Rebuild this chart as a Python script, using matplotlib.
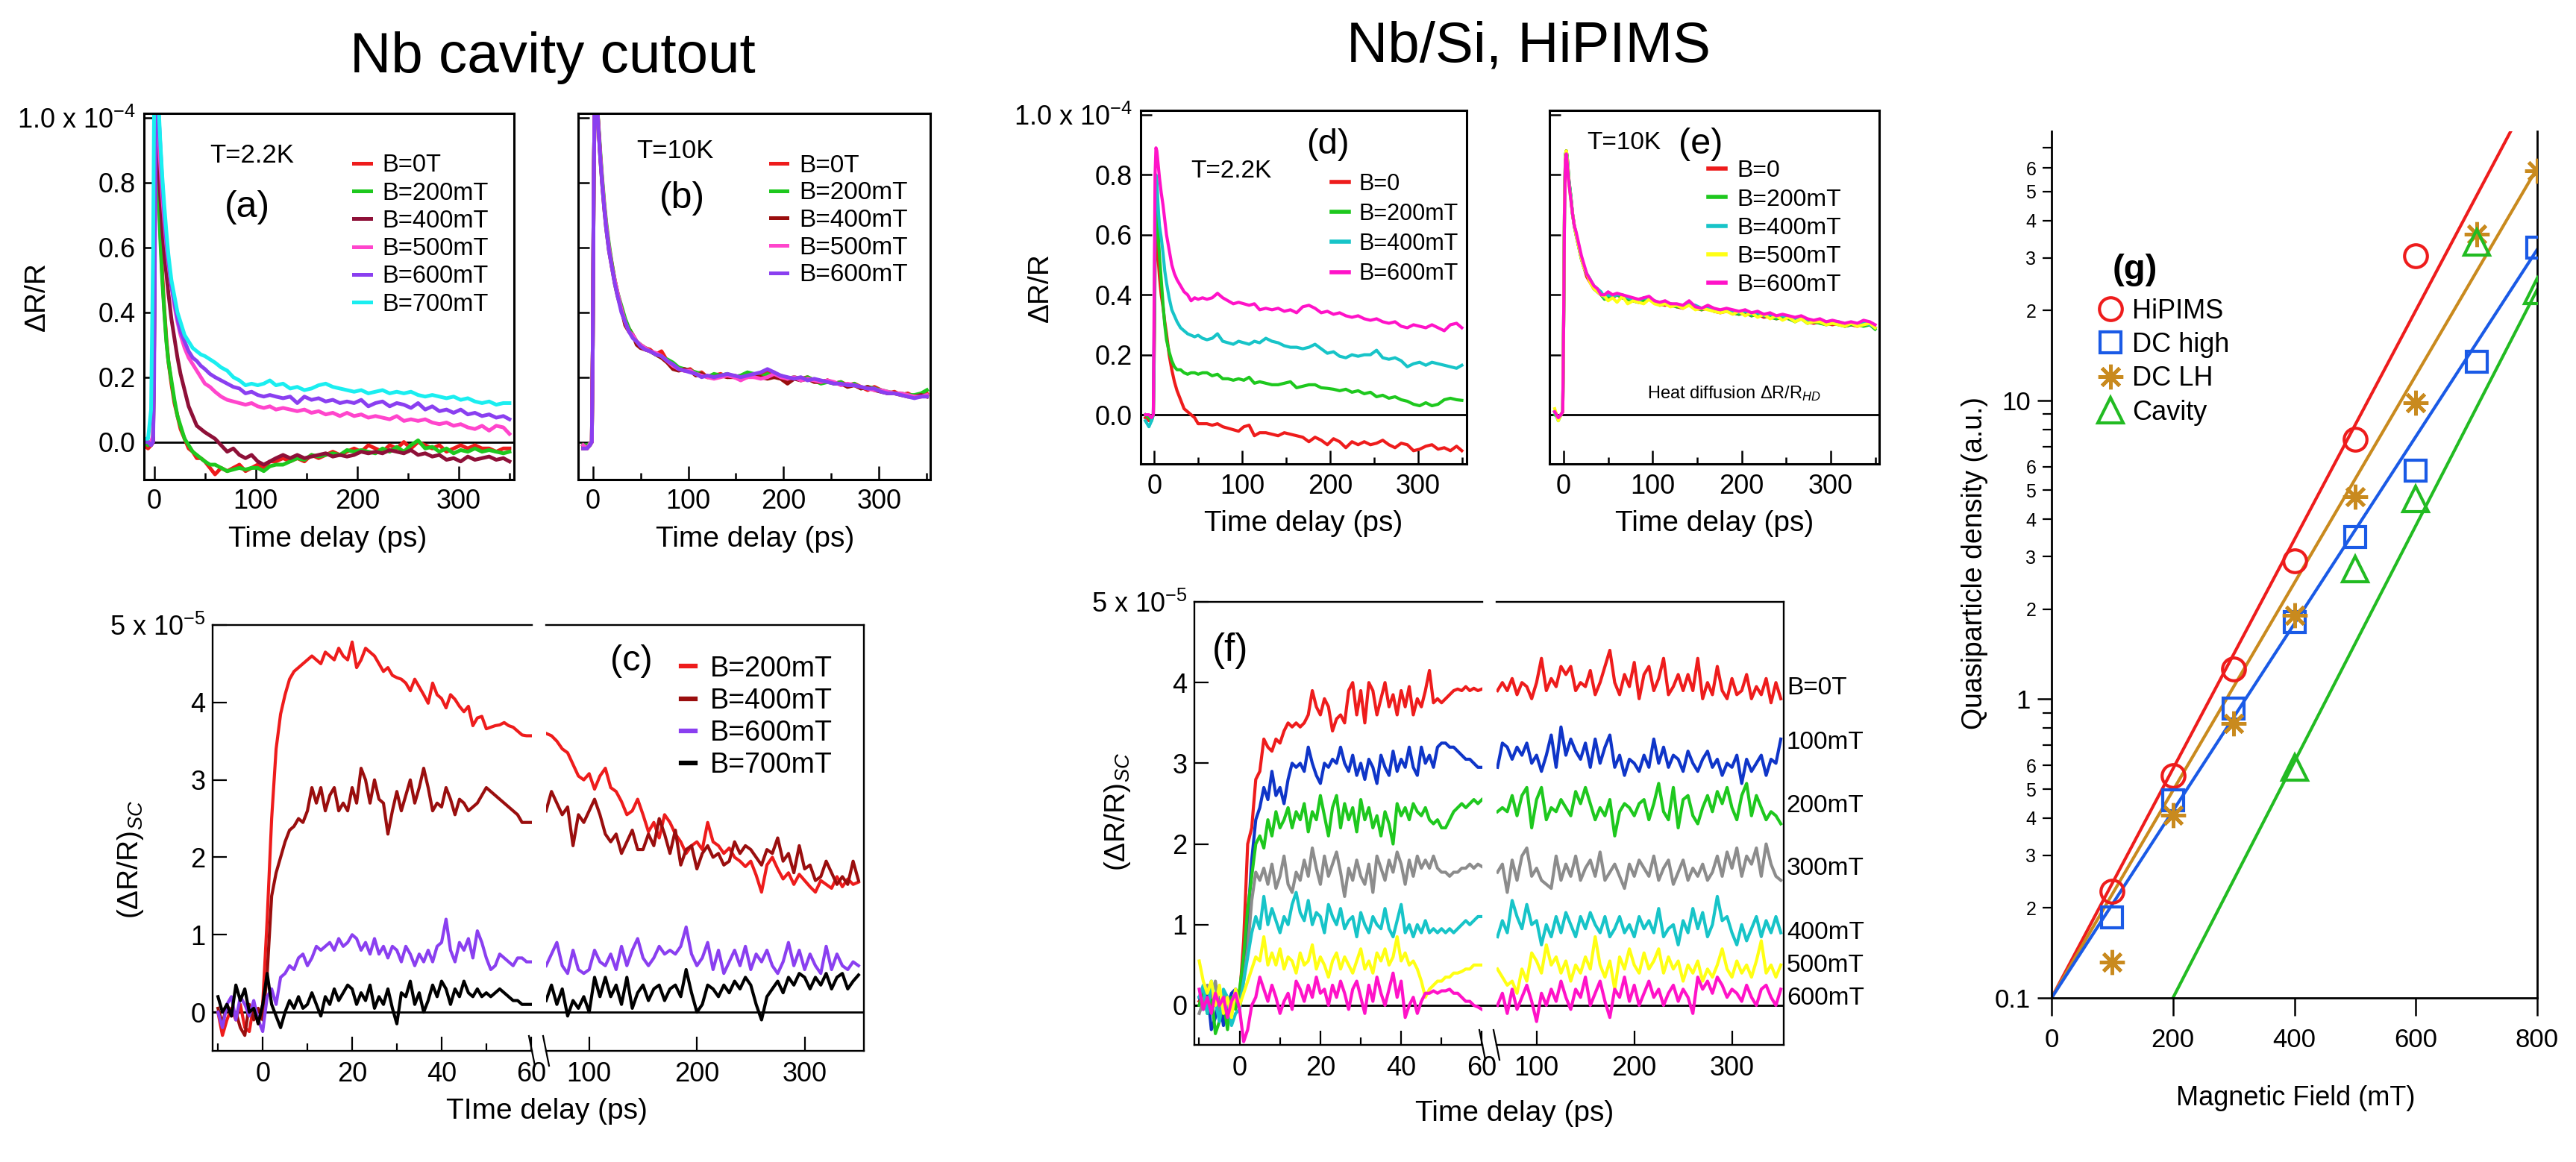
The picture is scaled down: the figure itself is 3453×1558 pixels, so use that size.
import math
import matplotlib
matplotlib.use("Agg")
import matplotlib.pyplot as plt
from matplotlib.lines import Line2D
from matplotlib.ticker import FixedLocator, FixedFormatter, FuncFormatter

# ---------------- data ----------------
# delay grid (ps) for panels a, b, d, e  (dR/R in units of 1e-4)
t_decay = [-10, -6, -3, -1, 0, 1, 2, 3, 4, 5,
           6, 8, 10, 12, 14, 17, 20, 23, 26, 30,
           34, 38, 42, 46, 50, 55, 60, 66, 72, 78,
           84, 90, 96, 102, 108, 114, 120, 127, 134, 141,
           148, 155, 162, 169, 176, 183, 190, 197, 204, 211,
           218, 225, 232, 239, 246, 253, 260, 267, 274, 281,
           288, 295, 302, 309, 316, 323, 330, 337, 344, 350]

# (a) Nb cavity cutout, T=2.2K
a_0T = [-0.01, -0.02, -0.01, 0.0, 0.3, 0.8, 0.98, 0.95, 0.85, 0.75,
        0.66, 0.52, 0.41, 0.32, 0.25, 0.18, 0.12, 0.08, 0.04, 0.01,
        -0.02, -0.03, -0.05, -0.05, -0.06, -0.08, -0.1, -0.08, -0.09, -0.08,
        -0.07, -0.09, -0.08, -0.07, -0.08, -0.06, -0.06, -0.05, -0.06, -0.05,
        -0.06, -0.04, -0.05, -0.04, -0.03, -0.04, -0.03, -0.02, -0.03, -0.01,
        -0.02, -0.03, -0.01, -0.02, 0.0, -0.02, 0.0, -0.01, -0.02, -0.01,
        -0.03, -0.02, -0.01, -0.02, -0.01, -0.02, -0.02, -0.03, -0.02, -0.02]
a_200 = [0.0, -0.01, 0.0, 0.01, 0.35, 0.85, 0.98, 0.93, 0.82, 0.72,
         0.63, 0.5, 0.4, 0.31, 0.25, 0.19, 0.13, 0.08, 0.05, 0.01,
         -0.01, -0.03, -0.04, -0.05, -0.06, -0.07, -0.07, -0.08, -0.09, -0.085,
         -0.08, -0.085, -0.08, -0.08, -0.09, -0.075, -0.07, -0.07, -0.06, -0.05,
         -0.055, -0.04, -0.045, -0.04, -0.035, -0.04, -0.025, -0.03, -0.025, -0.03,
         -0.035, -0.02, -0.03, -0.015, -0.03, -0.01, 0.005, -0.02, -0.015, -0.03,
         -0.02, -0.035, -0.025, -0.03, -0.02, -0.03, -0.025, -0.03, -0.035, -0.03]
a_400 = [0.0, 0.0, -0.01, 0.0, 0.3, 0.8, 0.97, 0.95, 0.88, 0.82,
         0.76, 0.66, 0.58, 0.52, 0.46, 0.38, 0.32, 0.26, 0.21, 0.16,
         0.11, 0.08, 0.05, 0.04, 0.03, 0.02, 0.01, -0.01, -0.03, -0.02,
         -0.04, -0.05, -0.04, -0.06, -0.07, -0.06, -0.05, -0.04, -0.05, -0.04,
         -0.05, -0.045, -0.04, -0.035, -0.045, -0.04, -0.045, -0.04, -0.03, -0.035,
         -0.03, -0.035, -0.025, -0.03, -0.035, -0.025, -0.04, -0.035, -0.045, -0.04,
         -0.055, -0.05, -0.06, -0.045, -0.055, -0.05, -0.045, -0.055, -0.05, -0.06]
a_500 = [0.0, 0.0, 0.0, 0.02, 0.4, 0.9, 1.05, 1.05, 1.0, 0.92,
         0.86, 0.76, 0.68, 0.61, 0.55, 0.48, 0.42, 0.37, 0.33, 0.29,
         0.26, 0.24, 0.22, 0.2, 0.18, 0.17, 0.155, 0.14, 0.13, 0.125,
         0.12, 0.115, 0.12, 0.11, 0.105, 0.11, 0.1, 0.105, 0.1, 0.095,
         0.1, 0.09, 0.095, 0.085, 0.09, 0.08, 0.09, 0.08, 0.085, 0.075,
         0.08, 0.075, 0.07, 0.08, 0.065, 0.07, 0.065, 0.07, 0.06, 0.055,
         0.06, 0.05, 0.055, 0.045, 0.04, 0.05, 0.035, 0.05, 0.045, 0.025]
a_600 = [0.0, 0.0, -0.01, 0.0, 0.2, 0.7, 1.05, 1.1, 1.05, 0.98,
         0.92, 0.8, 0.7, 0.62, 0.56, 0.48, 0.43, 0.38, 0.34, 0.31,
         0.28, 0.26, 0.25, 0.235, 0.225, 0.21, 0.2, 0.19, 0.18, 0.17,
         0.165, 0.15, 0.155, 0.145, 0.14, 0.145, 0.14, 0.135, 0.14, 0.12,
         0.14, 0.13, 0.135, 0.125, 0.13, 0.12, 0.125, 0.12, 0.13, 0.11,
         0.12, 0.125, 0.11, 0.12, 0.115, 0.105, 0.12, 0.1, 0.11, 0.095,
         0.1, 0.09, 0.1, 0.085, 0.09, 0.08, 0.085, 0.075, 0.08, 0.07]
a_700 = [0.01, 0.01, 0.1, 0.6, 1.05, 1.1, 1.1, 1.1, 1.05, 1.0,
         0.93, 0.82, 0.73, 0.65, 0.58, 0.5, 0.45, 0.4, 0.37, 0.33,
         0.31, 0.29, 0.28, 0.27, 0.265, 0.255, 0.245, 0.23, 0.22, 0.2,
         0.19, 0.175, 0.18, 0.175, 0.18, 0.19, 0.175, 0.18, 0.165, 0.17,
         0.16, 0.165, 0.175, 0.18, 0.17, 0.165, 0.16, 0.155, 0.16, 0.15,
         0.155, 0.16, 0.15, 0.155, 0.15, 0.155, 0.145, 0.14, 0.145, 0.14,
         0.135, 0.14, 0.13, 0.135, 0.125, 0.12, 0.125, 0.115, 0.12, 0.12]

# (b) Nb cavity cutout, T=10K
b_0T = [-0.01, -0.02, -0.005, 0.0, 0.3, 0.8, 1.05, 1.1, 1.08, 1.02,
        0.97, 0.88, 0.8, 0.73, 0.67, 0.6, 0.55, 0.5, 0.46, 0.41,
        0.37, 0.35, 0.33, 0.31, 0.3, 0.29, 0.285, 0.27, 0.28, 0.25,
        0.24, 0.225, 0.22, 0.225, 0.21, 0.215, 0.2, 0.205, 0.21, 0.2,
        0.205, 0.2, 0.21, 0.2, 0.21, 0.215, 0.215, 0.2, 0.19, 0.2,
        0.195, 0.2, 0.19, 0.185, 0.19, 0.18, 0.185, 0.175, 0.18, 0.17,
        0.16, 0.17, 0.16, 0.15, 0.155, 0.145, 0.15, 0.14, 0.14, 0.15]
b_200 = [-0.01, -0.01, -0.005, 0.0, 0.3, 0.8, 1.05, 1.1, 1.08, 1.02,
         0.98, 0.89, 0.81, 0.74, 0.68, 0.61, 0.55, 0.5, 0.46, 0.42,
         0.38, 0.35, 0.33, 0.31, 0.3, 0.29, 0.28, 0.27, 0.26, 0.255,
         0.245, 0.23, 0.225, 0.22, 0.215, 0.21, 0.2, 0.21, 0.205, 0.21,
         0.2, 0.205, 0.215, 0.21, 0.2, 0.21, 0.2, 0.205, 0.195, 0.2,
         0.19, 0.2, 0.19, 0.18, 0.185, 0.18, 0.185, 0.17, 0.18, 0.165,
         0.17, 0.165, 0.16, 0.155, 0.15, 0.15, 0.145, 0.145, 0.15, 0.16]
b_400 = [-0.02, -0.02, -0.01, 0.0, 0.3, 0.8, 1.05, 1.1, 1.08, 1.02,
         0.97, 0.87, 0.79, 0.72, 0.66, 0.59, 0.54, 0.49, 0.45, 0.41,
         0.36, 0.34, 0.33, 0.3, 0.29, 0.285, 0.28, 0.27, 0.26, 0.245,
         0.225, 0.22, 0.225, 0.22, 0.205, 0.21, 0.2, 0.2, 0.205, 0.2,
         0.2, 0.195, 0.2, 0.205, 0.2, 0.195, 0.2, 0.195, 0.18, 0.195,
         0.19, 0.195, 0.185, 0.185, 0.19, 0.18, 0.18, 0.17, 0.175, 0.165,
         0.17, 0.16, 0.155, 0.15, 0.15, 0.145, 0.14, 0.14, 0.145, 0.14]
b_500 = [-0.01, -0.02, -0.005, 0.0, 0.3, 0.8, 1.05, 1.1, 1.08, 1.02,
         0.97, 0.88, 0.8, 0.73, 0.67, 0.6, 0.54, 0.5, 0.46, 0.41,
         0.37, 0.34, 0.33, 0.31, 0.3, 0.29, 0.28, 0.275, 0.265, 0.25,
         0.235, 0.225, 0.22, 0.22, 0.21, 0.205, 0.2, 0.195, 0.2, 0.205,
         0.2, 0.19, 0.2, 0.2, 0.195, 0.2, 0.21, 0.2, 0.195, 0.2,
         0.19, 0.195, 0.19, 0.185, 0.19, 0.185, 0.175, 0.18, 0.175, 0.17,
         0.165, 0.16, 0.16, 0.155, 0.15, 0.15, 0.145, 0.14, 0.14, 0.145]
b_600 = [-0.02, -0.02, -0.01, 0.0, 0.3, 0.8, 1.05, 1.1, 1.08, 1.02,
         0.96, 0.87, 0.79, 0.72, 0.66, 0.59, 0.54, 0.49, 0.45, 0.4,
         0.37, 0.34, 0.32, 0.31, 0.295, 0.285, 0.28, 0.27, 0.265, 0.25,
         0.24, 0.225, 0.22, 0.215, 0.21, 0.2, 0.205, 0.2, 0.205, 0.21,
         0.205, 0.2, 0.205, 0.21, 0.215, 0.225, 0.215, 0.205, 0.2, 0.195,
         0.2, 0.19, 0.195, 0.19, 0.185, 0.18, 0.18, 0.175, 0.175, 0.17,
         0.165, 0.165, 0.155, 0.15, 0.15, 0.145, 0.14, 0.135, 0.14, 0.14]

# (d) Nb/Si HiPIMS, T=2.2K
d_0 = [-0.01, -0.02, -0.01, 0.0, 0.2, 0.5, 0.62, 0.6, 0.55, 0.5,
       0.46, 0.4, 0.36, 0.31, 0.27, 0.2, 0.15, 0.11, 0.08, 0.05,
       0.02, 0.01, 0.0, -0.01, -0.03, -0.03, -0.03, -0.035, -0.03, -0.04,
       -0.045, -0.05, -0.055, -0.04, -0.035, -0.07, -0.06, -0.06, -0.065, -0.07,
       -0.06, -0.065, -0.07, -0.075, -0.09, -0.075, -0.085, -0.1, -0.08, -0.09,
       -0.11, -0.09, -0.1, -0.09, -0.1, -0.095, -0.085, -0.1, -0.11, -0.095,
       -0.1, -0.12, -0.115, -0.105, -0.1, -0.115, -0.11, -0.12, -0.105, -0.12]
d_200 = [0.0, -0.01, -0.02, 0.0, 0.25, 0.6, 0.72, 0.7, 0.64, 0.58,
         0.53, 0.45, 0.37, 0.3, 0.25, 0.21, 0.18, 0.16, 0.15, 0.15,
         0.14, 0.135, 0.14, 0.14, 0.135, 0.14, 0.14, 0.13, 0.135, 0.12,
         0.12, 0.115, 0.12, 0.115, 0.125, 0.105, 0.11, 0.105, 0.1, 0.1,
         0.105, 0.11, 0.09, 0.095, 0.1, 0.1, 0.09, 0.088, 0.085, 0.08,
         0.085, 0.075, 0.08, 0.07, 0.075, 0.06, 0.065, 0.055, 0.06, 0.05,
         0.045, 0.035, 0.03, 0.04, 0.03, 0.035, 0.05, 0.055, 0.05, 0.048]
d_400 = [-0.02, -0.04, -0.02, 0.0, 0.3, 0.65, 0.8, 0.78, 0.72, 0.67,
         0.63, 0.59, 0.54, 0.48, 0.44, 0.39, 0.35, 0.33, 0.31, 0.29,
         0.28, 0.27, 0.265, 0.26, 0.265, 0.255, 0.25, 0.255, 0.27, 0.245,
         0.24, 0.235, 0.245, 0.24, 0.235, 0.245, 0.24, 0.255, 0.245, 0.24,
         0.23, 0.225, 0.225, 0.22, 0.225, 0.235, 0.22, 0.205, 0.21, 0.195,
         0.19, 0.2, 0.195, 0.2, 0.2, 0.215, 0.19, 0.185, 0.19, 0.18,
         0.16, 0.17, 0.175, 0.165, 0.175, 0.17, 0.165, 0.16, 0.155, 0.165]
d_600 = [0.0, 0.0, -0.01, 0.0, 0.4, 0.8, 0.89, 0.88, 0.85, 0.82,
         0.79, 0.74, 0.7, 0.65, 0.6, 0.55, 0.5, 0.47, 0.45, 0.43,
         0.41, 0.4, 0.38, 0.39, 0.385, 0.39, 0.385, 0.39, 0.405, 0.39,
         0.38, 0.37, 0.375, 0.37, 0.365, 0.37, 0.35, 0.355, 0.35, 0.355,
         0.345, 0.35, 0.34, 0.36, 0.365, 0.355, 0.34, 0.345, 0.335, 0.34,
         0.33, 0.325, 0.33, 0.32, 0.315, 0.32, 0.31, 0.305, 0.31, 0.295,
         0.29, 0.3, 0.295, 0.29, 0.3, 0.29, 0.28, 0.3, 0.305, 0.29]

# (e) Nb/Si HiPIMS, T=10K
e_0 = [0.01, -0.01, 0.0, 0.01, 0.3, 0.7, 0.86, 0.88, 0.86, 0.82,
       0.78, 0.73, 0.67, 0.63, 0.6, 0.56, 0.52, 0.49, 0.46, 0.44,
       0.42, 0.41, 0.4, 0.39, 0.395, 0.39, 0.4, 0.39, 0.385, 0.38,
       0.375, 0.38, 0.385, 0.375, 0.37, 0.365, 0.37, 0.36, 0.355, 0.37,
       0.355, 0.35, 0.355, 0.345, 0.34, 0.345, 0.34, 0.335, 0.34, 0.33,
       0.335, 0.325, 0.33, 0.32, 0.325, 0.32, 0.315, 0.32, 0.31, 0.305,
       0.31, 0.305, 0.3, 0.305, 0.295, 0.3, 0.295, 0.3, 0.305, 0.29]
e_200 = [0.0, -0.01, 0.0, 0.01, 0.3, 0.7, 0.87, 0.88, 0.86, 0.82,
         0.78, 0.73, 0.67, 0.63, 0.6, 0.56, 0.52, 0.49, 0.47, 0.45,
         0.42, 0.41, 0.4, 0.385, 0.39, 0.395, 0.4, 0.39, 0.385, 0.38,
         0.375, 0.38, 0.385, 0.38, 0.365, 0.37, 0.365, 0.36, 0.36, 0.37,
         0.36, 0.35, 0.36, 0.345, 0.345, 0.35, 0.34, 0.335, 0.345, 0.33,
         0.335, 0.33, 0.325, 0.32, 0.325, 0.32, 0.31, 0.32, 0.305, 0.31,
         0.305, 0.3, 0.305, 0.3, 0.295, 0.3, 0.3, 0.295, 0.3, 0.285]
e_400 = [0.01, -0.02, 0.0, 0.01, 0.3, 0.7, 0.86, 0.87, 0.86, 0.82,
         0.78, 0.73, 0.67, 0.63, 0.6, 0.56, 0.52, 0.49, 0.47, 0.45,
         0.43, 0.42, 0.41, 0.39, 0.4, 0.395, 0.4, 0.4, 0.39, 0.385,
         0.38, 0.39, 0.385, 0.38, 0.37, 0.375, 0.37, 0.365, 0.36, 0.37,
         0.365, 0.355, 0.36, 0.35, 0.345, 0.35, 0.345, 0.34, 0.345, 0.335,
         0.34, 0.33, 0.335, 0.325, 0.33, 0.325, 0.32, 0.325, 0.315, 0.31,
         0.315, 0.31, 0.305, 0.31, 0.3, 0.305, 0.3, 0.305, 0.3, 0.29]
e_500 = [0.02, -0.02, 0.0, 0.01, 0.3, 0.7, 0.86, 0.88, 0.85, 0.81,
         0.77, 0.72, 0.67, 0.63, 0.6, 0.56, 0.52, 0.49, 0.47, 0.44,
         0.42, 0.41, 0.4, 0.395, 0.38, 0.39, 0.375, 0.395, 0.37, 0.38,
         0.375, 0.37, 0.385, 0.37, 0.365, 0.37, 0.36, 0.365, 0.355, 0.365,
         0.35, 0.355, 0.35, 0.345, 0.34, 0.345, 0.335, 0.345, 0.33, 0.34,
         0.325, 0.335, 0.32, 0.33, 0.315, 0.325, 0.31, 0.32, 0.305, 0.31,
         0.31, 0.3, 0.305, 0.3, 0.295, 0.305, 0.295, 0.3, 0.305, 0.29]
e_600 = [0.01, -0.01, 0.0, 0.01, 0.3, 0.68, 0.85, 0.87, 0.84, 0.8,
         0.77, 0.72, 0.67, 0.63, 0.61, 0.57, 0.53, 0.5, 0.47, 0.45,
         0.43, 0.42, 0.4, 0.4, 0.41, 0.4, 0.405, 0.4, 0.395, 0.39,
         0.385, 0.39, 0.395, 0.38, 0.375, 0.38, 0.37, 0.37, 0.365, 0.38,
         0.36, 0.355, 0.365, 0.355, 0.35, 0.355, 0.35, 0.345, 0.35, 0.34,
         0.345, 0.335, 0.34, 0.33, 0.335, 0.33, 0.325, 0.33, 0.32, 0.315,
         0.32, 0.31, 0.315, 0.31, 0.305, 0.31, 0.305, 0.315, 0.31, 0.3]

# broken time axis for panels c and f  ((dR/R)_SC in units of 1e-5)
t_short = list(range(-10, 61))
t_long = list(range(60, 351, 5))

# (c) Nb cavity cutout, superconducting component
c_200_s = [0.0, -0.3, -0.1, 0.05, -0.1, 0.1, -0.2, -0.25, 0.1, -0.15,
           0.1, 1.2, 2.5, 3.4, 3.85, 4.1, 4.3, 4.4, 4.45, 4.5,
           4.55, 4.6, 4.55, 4.5, 4.65, 4.6, 4.55, 4.7, 4.6, 4.55,
           4.78, 4.45, 4.55, 4.7, 4.65, 4.6, 4.5, 4.4, 4.45, 4.35,
           4.32, 4.3, 4.25, 4.15, 4.3, 4.2, 4.1, 3.99, 4.25, 4.1,
           4.05, 3.93, 4.1, 4.04, 3.95, 3.88, 3.95, 3.7, 3.8, 3.82,
           3.66, 3.68, 3.7, 3.71, 3.74, 3.7, 3.68, 3.63, 3.58, 3.57,
           3.57]
c_200_l = [3.6, 3.57, 3.5, 3.4, 3.35, 3.2, 3.05, 3.0, 3.08, 2.88,
           3.05, 3.15, 2.9, 2.85, 2.72, 2.55, 2.6, 2.75, 2.55, 2.33,
           2.45, 2.25, 2.55, 2.45, 2.3, 2.2, 2.05, 2.15, 2.2, 2.1,
           2.45, 2.2, 2.15, 2.05, 2.12, 2.0, 1.95, 1.88, 1.95, 1.77,
           1.55, 1.9, 2.0, 1.85, 1.72, 1.8, 1.65, 1.78, 1.7, 1.62,
           1.55, 1.7, 1.65, 1.6, 1.75, 1.62, 1.72, 1.65, 1.68]
c_400_s = [0.05, -0.15, 0.1, -0.05, 0.0, -0.2, -0.3, 0.1, -0.1, 0.05,
           -0.1, 0.5, 1.5, 1.8, 2.0, 2.2, 2.35, 2.4, 2.5, 2.45,
           2.6, 2.9, 2.7, 2.9, 2.6, 2.8, 2.9, 2.6, 2.7, 2.6,
           2.9, 2.7, 3.15, 3.0, 2.7, 3.0, 2.75, 2.7, 2.3, 2.6,
           2.85, 2.6, 2.8, 3.0, 2.7, 2.9, 3.15, 2.9, 2.6, 2.7,
           2.65, 2.9, 2.75, 2.55, 2.75, 2.7, 2.6, 2.65, 2.7, 2.8,
           2.9, 2.85, 2.8, 2.75, 2.7, 2.65, 2.6, 2.55, 2.45, 2.45,
           2.45]
c_400_l = [2.6, 2.85, 2.7, 2.55, 2.65, 2.15, 2.55, 2.45, 2.6, 2.75,
           2.55, 2.3, 2.2, 2.3, 2.05, 2.2, 2.35, 2.1, 2.1, 2.3,
           2.15, 2.5, 2.3, 2.05, 2.35, 1.9, 2.1, 2.15, 1.85, 2.05,
           2.15, 2.0, 2.05, 1.9, 1.95, 2.2, 2.05, 2.15, 2.1, 2.0,
           1.9, 2.1, 2.05, 2.25, 1.95, 2.05, 1.8, 2.15, 1.85, 1.9,
           1.7, 1.75, 1.95, 1.8, 1.65, 1.75, 1.65, 1.95, 1.7]
c_600_s = [0.0, -0.2, 0.1, 0.2, -0.1, 0.2, 0.1, -0.05, 0.15, -0.1,
           -0.25, 0.2, 0.3, 0.1, 0.45, 0.5, 0.6, 0.55, 0.7, 0.75,
           0.6, 0.7, 0.85, 0.8, 0.85, 0.9, 0.8, 0.95, 0.85, 0.9,
           1.0, 0.95, 0.8, 0.9, 0.75, 0.95, 0.75, 0.85, 0.7, 0.85,
           0.8, 0.65, 0.85, 0.75, 0.6, 0.75, 0.65, 0.8, 0.65, 0.85,
           0.9, 1.2, 0.8, 0.65, 0.9, 0.8, 0.95, 0.7, 1.05, 0.9,
           0.7, 0.55, 0.6, 0.75, 0.7, 0.65, 0.6, 0.7, 0.7, 0.65,
           0.65]
c_600_l = [0.6, 0.75, 0.9, 0.6, 0.5, 0.8, 0.55, 0.5, 0.55, 0.8,
           0.65, 0.6, 0.75, 0.55, 0.85, 0.6, 0.8, 0.95, 0.7, 0.6,
           0.7, 0.85, 0.75, 0.8, 0.75, 0.85, 1.1, 0.75, 0.6, 0.7,
           0.9, 0.55, 0.8, 0.5, 0.65, 0.8, 0.6, 0.85, 0.55, 0.75,
           0.65, 0.8, 0.6, 0.5, 0.65, 0.9, 0.6, 0.8, 0.55, 0.75,
           0.6, 0.5, 0.85, 0.55, 0.75, 0.6, 0.55, 0.65, 0.6]
c_700_s = [0.2, 0.0, 0.1, -0.05, 0.35, 0.15, 0.3, 0.0, 0.05, -0.15,
           0.1, 0.5, 0.1, -0.05, -0.2, 0.0, 0.15, 0.05, 0.2, 0.05,
           0.1, 0.25, 0.1, -0.05, 0.2, 0.1, 0.3, 0.15, 0.25, 0.35,
           0.3, 0.1, 0.25, 0.15, 0.35, 0.05, 0.2, 0.1, 0.3, 0.05,
           -0.15, 0.25, 0.2, 0.4, 0.1, 0.25, 0.0, 0.15, 0.35, 0.2,
           0.4, 0.3, 0.1, 0.3, 0.2, 0.4, 0.25, 0.2, 0.3, 0.2,
           0.25, 0.2, 0.25, 0.3, 0.25, 0.2, 0.15, 0.15, 0.1, 0.1,
           0.1]
c_700_l = [0.15, 0.35, 0.1, 0.3, -0.05, 0.15, 0.05, 0.2, 0.0, 0.45,
           0.2, 0.45, 0.2, 0.35, 0.1, 0.45, 0.05, 0.25, 0.35, 0.15,
           0.3, 0.35, 0.15, 0.3, 0.35, 0.2, 0.55, 0.25, 0.0, 0.1,
           0.35, 0.3, 0.2, 0.35, 0.25, 0.4, 0.3, 0.45, 0.35, 0.1,
           -0.1, 0.2, 0.3, 0.4, 0.25, 0.45, 0.35, 0.5, 0.45, 0.3,
           0.45, 0.35, 0.5, 0.3, 0.45, 0.5, 0.3, 0.4, 0.48]

# (f) Nb/Si HiPIMS, superconducting component
f_0_s = [0.05, 0.1, -0.05, 0.0, 0.15, -0.1, -0.2, 0.05, 0.0, 0.1,
         0.1, 0.8, 2.0, 2.2, 2.8, 2.9, 3.3, 3.2, 3.15, 3.3,
         3.25, 3.4, 3.5, 3.45, 3.5, 3.45, 3.5, 3.6, 3.9, 3.7,
         3.6, 3.8, 3.7, 3.4, 3.55, 3.6, 3.5, 3.9, 4.0, 3.6,
         3.9, 3.5, 4.0, 3.9, 3.6, 3.8, 4.0, 3.7, 3.85, 3.6,
         3.9, 3.7, 3.95, 3.6, 3.8, 3.7, 3.9, 4.15, 3.75, 3.8,
         3.75, 3.8, 3.85, 3.9, 3.92, 3.9, 3.95, 3.9, 3.93, 3.9,
         3.92]
f_0_l = [3.9, 4.0, 3.9, 4.05, 3.85, 4.0, 3.95, 3.8, 4.0, 4.3,
         3.9, 4.05, 3.95, 4.2, 4.1, 4.2, 3.9, 4.0, 3.95, 4.15,
         3.85, 4.0, 4.2, 4.4, 4.0, 3.85, 4.1, 3.95, 4.25, 3.8,
         4.1, 4.2, 3.9, 4.05, 4.3, 3.85, 3.95, 4.1, 3.9, 4.1,
         3.9, 4.3, 3.8, 4.0, 3.85, 4.2, 3.9, 3.8, 4.05, 3.85,
         3.9, 4.1, 3.8, 3.95, 3.85, 4.05, 3.75, 4.0, 3.8]
f_100_s = [0.1, -0.05, 0.2, -0.3, -0.15, 0.1, -0.25, 0.0, 0.15, 0.2,
           0.1, 0.4, 1.0, 1.8, 2.3, 2.45, 2.7, 2.55, 2.9, 2.6,
           2.7, 2.5, 2.8, 3.0, 2.95, 3.0, 2.9, 3.2, 3.0, 2.85,
           2.75, 3.0, 2.95, 3.05, 3.0, 3.2, 3.0, 2.9, 3.1, 2.85,
           3.0, 2.8, 3.05, 2.95, 2.75, 3.1, 2.95, 2.85, 3.15, 2.9,
           3.05, 2.95, 3.2, 2.95, 2.85, 3.2, 3.0, 3.1, 2.95, 3.2,
           3.25, 3.25, 3.2, 3.2, 3.15, 3.1, 3.05, 3.05, 3.0, 2.95,
           2.95]
f_100_l = [2.95, 3.25, 3.2, 3.05, 3.2, 3.1, 3.25, 3.0, 3.1, 2.9,
           3.1, 3.35, 2.95, 3.45, 3.1, 3.3, 3.15, 3.05, 3.25, 2.95,
           3.3, 3.0, 3.2, 3.35, 2.95, 3.1, 2.85, 3.05, 3.0, 2.9,
           3.1, 2.95, 3.3, 3.0, 3.2, 2.95, 3.1, 3.05, 2.9, 3.15,
           3.0, 2.9, 3.05, 3.15, 2.95, 3.05, 2.85, 3.0, 2.95, 3.1,
           2.75, 3.05, 2.9, 3.0, 3.1, 2.85, 3.05, 3.0, 3.3]
f_200_s = [0.0, 0.2, -0.1, 0.15, -0.35, -0.2, 0.05, -0.3, 0.1, -0.05,
           0.2, 0.6, 1.2, 1.6, 2.0, 2.1, 1.95, 2.3, 2.1, 2.4,
           2.2, 2.3, 2.45, 2.2, 2.4, 2.3, 2.5, 2.15, 2.4, 2.3,
           2.6, 2.35, 2.1, 2.45, 2.6, 2.2, 2.5, 2.3, 2.45, 2.15,
           2.55, 2.3, 2.45, 2.2, 2.35, 2.1, 2.4, 2.25, 2.0, 2.5,
           2.35, 2.45, 2.3, 2.5, 2.4, 2.35, 2.45, 2.3, 2.25, 2.3,
           2.2, 2.2, 2.3, 2.4, 2.45, 2.5, 2.45, 2.5, 2.55, 2.5,
           2.55]
f_200_l = [2.4, 2.45, 2.4, 2.6, 2.35, 2.6, 2.7, 2.2, 2.55, 2.7,
           2.3, 2.45, 2.4, 2.55, 2.45, 2.35, 2.65, 2.5, 2.7, 2.5,
           2.3, 2.45, 2.35, 2.55, 2.1, 2.4, 2.5, 2.45, 2.35, 2.5,
           2.55, 2.3, 2.5, 2.75, 2.4, 2.3, 2.7, 2.2, 2.55, 2.6,
           2.35, 2.25, 2.45, 2.6, 2.4, 2.65, 2.5, 2.7, 2.45, 2.3,
           2.6, 2.75, 2.35, 2.6, 2.45, 2.3, 2.4, 2.35, 2.25]
f_300_s = [-0.1, 0.05, 0.25, 0.1, 0.3, -0.05, 0.15, 0.0, -0.1, 0.2,
           0.0, 0.3, 0.7, 1.3, 1.65, 1.55, 1.7, 1.5, 1.75, 1.45,
           1.6, 1.85, 1.5, 1.4, 1.65, 1.55, 1.8, 1.6, 1.95, 1.7,
           1.5, 1.85, 1.6, 1.75, 1.9, 1.65, 1.35, 1.7, 1.55, 1.8,
           1.6, 1.5, 1.75, 1.4, 1.85, 1.7, 1.55, 1.8, 1.65, 1.9,
           1.75, 1.5, 1.8, 1.6, 1.85, 1.7, 1.8, 1.7, 1.85, 1.7,
           1.65, 1.65, 1.6, 1.65, 1.65, 1.7, 1.7, 1.75, 1.7, 1.75,
           1.72]
f_300_l = [1.65, 1.75, 1.4, 1.8, 1.55, 1.85, 1.95, 1.6, 1.7, 1.55,
           1.5, 1.45, 1.85, 1.55, 1.75, 1.6, 1.85, 1.55, 1.7, 1.8,
           1.6, 1.9, 1.55, 1.65, 1.75, 1.6, 1.45, 1.75, 1.6, 1.8,
           1.7, 1.6, 1.85, 1.55, 1.7, 1.8, 1.5, 1.65, 1.8, 1.55,
           1.7, 1.6, 1.75, 1.55, 1.65, 1.85, 1.6, 1.9, 1.7, 1.95,
           1.6, 1.85, 1.75, 1.95, 1.6, 2.0, 1.75, 1.6, 1.55]
f_400_s = [0.1, 0.25, -0.1, 0.3, 0.05, -0.2, 0.2, 0.1, -0.25, -0.1,
           -0.05, 0.3, 0.6, 0.9, 1.1, 0.95, 1.35, 1.0, 1.2, 1.05,
           0.9, 1.1, 1.0, 1.25, 1.4, 1.15, 1.05, 1.3, 1.0, 1.15,
           1.1, 0.9, 1.25, 1.1, 1.0, 1.2, 0.95, 1.05, 1.1, 0.85,
           1.15, 1.0, 0.9, 1.1, 1.0, 0.95, 1.2, 0.95, 0.85, 1.05,
           1.25, 0.9, 1.0, 0.85, 1.0, 0.9, 1.05, 0.9, 0.95, 0.9,
           0.95, 0.9, 0.95, 0.9, 0.95, 1.0, 1.05, 1.0, 1.05, 1.1,
           1.1]
f_400_l = [0.85, 1.05, 0.9, 1.3, 1.1, 0.95, 1.25, 1.0, 1.05, 0.75,
           1.0, 0.85, 1.1, 0.9, 1.15, 1.0, 0.85, 1.1, 0.95, 1.15,
           1.0, 0.9, 1.1, 0.85, 0.95, 1.1, 0.9, 1.0, 0.85, 1.1,
           0.95, 1.05, 0.9, 1.2, 0.85, 0.95, 1.0, 0.75, 1.05, 0.9,
           1.2, 0.95, 1.15, 0.85, 1.0, 1.35, 1.05, 1.1, 0.9, 0.75,
           1.0, 0.8, 0.95, 1.1, 0.85, 1.05, 0.9, 1.1, 0.9]
f_500_s = [0.55, 0.3, 0.15, 0.3, 0.0, 0.25, -0.1, 0.1, -0.15, 0.2,
           0.0, 0.15, 0.3, 0.45, 0.6, 0.55, 0.85, 0.5, 0.65, 0.5,
           0.7, 0.45, 0.6, 0.55, 0.4, 0.65, 0.5, 0.55, 0.75, 0.45,
           0.6, 0.5, 0.35, 0.55, 0.65, 0.45, 0.6, 0.5, 0.4, 0.55,
           0.7, 0.45, 0.55, 0.4, 0.65, 0.55, 0.7, 0.5, 0.6, 0.85,
           0.55, 0.65, 0.5, 0.55, 0.45, 0.3, 0.1, 0.2, 0.25, 0.3,
           0.3, 0.35, 0.35, 0.4, 0.4, 0.42, 0.45, 0.45, 0.5, 0.5,
           0.5]
f_500_l = [0.45, 0.35, 0.25, 0.3, 0.15, 0.45, 0.3, 0.65, 0.55, 0.4,
           0.75, 0.5, 0.6, 0.4, 0.55, 0.3, 0.5, 0.4, 0.6, 0.45,
           0.85, 0.5, 0.35, 0.55, 0.2, 0.6, 0.45, 0.7, 0.5, 0.4,
           0.65, 0.45, 0.55, 0.7, 0.4, 0.6, 0.45, 0.55, 0.3, 0.5,
           0.4, 0.55, 0.3, 0.45, 0.35, 0.5, 0.7, 0.45, 0.35, 0.55,
           0.4, 0.5, 0.35, 0.55, 0.8, 0.4, 0.5, 0.35, 0.5]
f_600_s = [0.2, -0.05, 0.1, -0.1, 0.15, 0.0, 0.1, -0.15, 0.05, 0.15,
           -0.05, -0.45, -0.3, 0.0, 0.1, 0.35, 0.2, 0.05, 0.25, 0.1,
           -0.1, 0.05, 0.15, -0.05, 0.3, 0.2, 0.05, 0.25, 0.1, 0.35,
           0.15, 0.2, 0.0, 0.25, 0.1, 0.3, 0.15, -0.05, 0.2, 0.3,
           0.1, -0.1, 0.25, 0.05, 0.35, 0.15, 0.0, 0.2, 0.4, 0.1,
           0.3, -0.15, 0.0, 0.1, -0.1, 0.05, 0.15, 0.15, 0.18, 0.15,
           0.18, 0.18, 0.2, 0.15, 0.15, 0.1, 0.05, 0.05, 0.0, -0.02,
           -0.05]
f_600_l = [0.0, 0.15, -0.1, 0.2, -0.05, 0.1, 0.25, 0.05, -0.2, 0.15,
           0.0, 0.2, 0.05, 0.3, 0.1, -0.05, 0.2, 0.1, 0.35, 0.0,
           0.15, 0.3, 0.05, -0.15, 0.2, 0.1, 0.35, 0.05, 0.25, 0.0,
           0.15, 0.3, 0.1, 0.2, 0.0, 0.15, 0.25, 0.05, 0.2, 0.1,
           -0.1, 0.35, 0.2, 0.3, 0.15, 0.35, 0.25, 0.1, 0.2, 0.15,
           0.05, 0.25, 0.1, 0.0, 0.2, 0.25, 0.1, 0.0, 0.2]
f_labels = ["B=0T", "100mT", "200mT", "300mT", "400mT", "500mT", "600mT"]
f_label_y = [3.93, 3.26, 2.47, 1.70, 0.90, 0.49, 0.09]

# (g) quasiparticle density vs field
hipims_B = [100, 200, 300, 400, 500, 600]
hipims_n = [0.228, 0.554, 1.26, 2.91, 7.43, 30.5]
dchigh_B = [100, 200, 300, 400, 500, 600, 700, 800]
dchigh_n = [0.186, 0.46, 0.93, 1.81, 3.49, 5.81, 13.5, 32.4]
dclh_B = [100, 200, 300, 400, 500, 600, 700, 800]
dclh_n = [0.132, 0.41, 0.83, 1.91, 4.77, 9.8, 36.0, 58.7]
cavity_B = [400, 500, 600, 700, 800]
cavity_n = [0.59, 2.73, 4.67, 33.8, 23.3]
# exponential fits (end points of the straight lines on the log axis)
fit_hipims_B, fit_hipims_n = [0, 800], [0.1, 117.0]
fit_dclh_B, fit_dclh_n = [0, 800], [0.1, 60.0]
fit_dchigh_B, fit_dchigh_n = [0, 800], [0.1, 32.0]
fit_cavity_B, fit_cavity_n = [200, 800], [0.1, 23.5]

# ---------------- styling ----------------
RED = "#ee1c1c"
GREEN = "#1ec81e"
MAROON = "#8e1038"
DKRED = "#9a0e0e"
PINK = "#ff45cc"
PURPLE = "#8a3ff0"
CYAN = "#1aeef0"
TEAL = "#17c4c8"
MAGENTA = "#ff12c8"
YELLOW = "#ffff14"
BLUE = "#0f35c8"
GRAY = "#8c8c8c"
G_RED, G_BLUE, G_ORANGE, G_GREEN = "#ee1c1c", "#1a5ae6", "#c98a1e", "#22bb22"

plt.rcParams["font.family"] = ["Liberation Sans", "DejaVu Sans"]
plt.rcParams["mathtext.fontset"] = "custom"
plt.rcParams["mathtext.rm"] = "Liberation Sans"
plt.rcParams["mathtext.it"] = "Liberation Sans:italic"

W, H = 3453, 1558
fig = plt.figure(figsize=(W / 100, H / 100), dpi=100)


def rect(l, t, r, b):
    return [l / W, 1 - b / H, (r - l) / W, (b - t) / H]


def fx(x):
    return x / W


def fy(y):
    return 1 - y / H


def ftext(x, y, s, **kw):
    fig.text(fx(x), fy(y), s, **kw)


def legend_at(ax, handles, labels, x, y, fs, hl, htp, ls, hlw=None):
    leg = ax.legend(handles, labels, loc="upper left", bbox_to_anchor=(fx(x), fy(y)),
                    bbox_transform=fig.transFigure, frameon=False, fontsize=fs,
                    handlelength=hl, handletextpad=htp, labelspacing=ls,
                    borderpad=0, borderaxespad=0)
    if hlw is not None:
        for ln in leg.get_lines():
            ln.set_linewidth(hlw)
    return leg


def style_decay(ax, xlim, ylim, show_labels):
    ax.set_xlim(*xlim)
    ax.set_ylim(*ylim)
    ax.set_xticks([0, 100, 200, 300])
    ax.set_xticks([50, 150, 250, 350], minor=True)
    ax.set_yticks([0, 0.2, 0.4, 0.6, 0.8, 1.0])
    if show_labels:
        ax.set_yticklabels(["0.0", "0.2", "0.4", "0.6", "0.8", "1.0 x 10$^{-4}$"])
    else:
        ax.set_yticklabels([])
    ax.tick_params(axis="x", which="major", direction="in", length=13, width=1.8,
                   labelsize=26, pad=9)
    ax.tick_params(axis="x", which="minor", direction="in", length=6.5, width=1.8)
    ax.tick_params(axis="y", direction="in", length=11, width=1.8, labelsize=26, pad=8)
    for s in ax.spines.values():
        s.set_linewidth(2.2)


def broken_axes(l, t, xb1, xb2, r, b, xlim_s, xlim_l):
    axs = fig.add_axes(rect(l, t, xb1, b))
    axl = fig.add_axes(rect(xb2, t, r, b), sharey=axs)
    axs.set_xlim(*xlim_s)
    axl.set_xlim(*xlim_l)
    axs.set_ylim(-0.5, 5.0)
    axs.spines["right"].set_visible(False)
    axl.spines["left"].set_visible(False)
    for ax in (axs, axl):
        for s in ax.spines.values():
            s.set_linewidth(1.7)
    axs.set_xticks([0, 20, 40, 60])
    axs.set_xticks([-10, 10, 30, 50], minor=True)
    axl.set_xticks([100, 200, 300])
    axs.set_yticks([0, 1, 2, 3, 4, 5])
    axs.set_yticklabels(["0", "1", "2", "3", "4", "5 x 10$^{-5}$"])
    axs.tick_params(axis="y", direction="in", length=14, width=1.6, labelsize=26, pad=7)
    axl.tick_params(axis="y", left=False, labelleft=False, right=False)
    for ax in (axs, axl):
        ax.tick_params(axis="x", which="major", direction="in", length=14, width=1.6,
                       labelsize=26, pad=10)
        ax.tick_params(axis="x", which="minor", direction="in", length=7, width=1.6)
    # zero line running across the gap
    gap = (xb2 - xb1) / (xb1 - l)
    axs.axhline(0, xmin=0, xmax=1 + gap, color="k", lw=2.0, clip_on=False, zorder=1)
    axl.axhline(0, color="k", lw=2.0, zorder=1)
    # break marks on the time axis
    for xp in (xb1, xb2):
        fig.add_artist(Line2D([fx(xp - 4), fx(xp + 4)], [fy(b - 20), fy(b + 20)],
                              transform=fig.transFigure, color="k", lw=1.6))
    return axs, axl


# ---------------- titles ----------------
ftext(741, 97, "Nb cavity cutout", fontsize=55, ha="center", va="baseline")
ftext(1805, 83, "Nb/Si, HiPIMS", fontsize=55, ha="left", va="baseline")

# ---------------- panel a ----------------
ax_a = fig.add_axes(rect(193, 152, 689, 643))
ax_a.axhline(0, color="k", lw=2.0, zorder=1)
a_lines = []
for ys, col in zip([a_0T, a_200, a_400, a_500, a_600, a_700],
                   [RED, GREEN, MAROON, PINK, PURPLE, CYAN]):
    ln, = ax_a.plot(t_decay, ys, color=col, lw=3.6)
    a_lines.append(ln)
style_decay(ax_a, (-10, 354.5), (-0.116, 1.014), True)
legend_at(ax_a, a_lines, ["B=0T", "B=200mT", "B=400mT", "B=500mT", "B=600mT", "B=700mT"],
          474, 206.5, 23.5, 0.7, 0.47, 0.19)
ftext(338, 209, "T=2.2K", fontsize=25, ha="center", va="center")
ftext(331, 278, "(a)", fontsize=36, ha="center", va="center")
ftext(50, 398, "\u0394R/R", fontsize=28, rotation=90, ha="center", va="center")
ftext(439, 723, "Time delay (ps)", fontsize=28, ha="center", va="center")

# ---------------- panel b ----------------
ax_b = fig.add_axes(rect(775, 152, 1247, 643))
b_lines = []
for ys, col in zip([b_0T, b_200, b_400, b_500, b_600],
                   [RED, GREEN, DKRED, PINK, PURPLE]):
    ln, = ax_b.plot(t_decay, ys, color=col, lw=3.6)
    b_lines.append(ln)
style_decay(ax_b, (-15.3, 353.6), (-0.116, 1.014), False)
legend_at(ax_b, b_lines, ["B=0T", "B=200mT", "B=400mT", "B=500mT", "B=600mT"],
          1033, 206.7, 24, 0.65, 0.49, 0.17)
ftext(905, 203, "T=10K", fontsize=25, ha="center", va="center")
ftext(914, 266, "(b)", fontsize=36, ha="center", va="center")
ftext(1012, 723, "Time delay (ps)", fontsize=28, ha="center", va="center")

# ---------------- panel c ----------------
ax_cs, ax_cl = broken_axes(285, 838, 713, 732, 1158, 1409, (-11.2, 60.2), (60, 355))
c_lines = []
for ys, yl, col in zip([c_200_s, c_400_s, c_600_s, c_700_s],
                       [c_200_l, c_400_l, c_600_l, c_700_l],
                       [RED, DKRED, PURPLE, "black"]):
    ln, = ax_cs.plot(t_short, ys, color=col, lw=3.0)
    ax_cl.plot(t_long, yl, color=col, lw=3.0)
    c_lines.append(ln)
legend_at(ax_cl, c_lines, ["B=200mT", "B=400mT", "B=600mT", "B=700mT"],
          913, 878.6, 27, 0.5, 0.53, 0.19, hlw=4.5)
ftext(846, 887, "(c)", fontsize=35, ha="center", va="center")
ftext(175, 1152, "(\u0394R/R)$_{SC}$", fontsize=28, rotation=90, ha="center", va="center")
ftext(733, 1490, "TIme delay (ps)", fontsize=28, ha="center", va="center")

# ---------------- panel d ----------------
ax_d = fig.add_axes(rect(1529, 148, 1966, 622))
ax_d.axhline(0, color="k", lw=2.0, zorder=1)
d_lines = []
for ys, col in zip([d_0, d_200, d_400, d_600], [RED, GREEN, TEAL, MAGENTA]):
    ln, = ax_d.plot(t_decay, ys, color=col, lw=3.0)
    d_lines.append(ln)
style_decay(ax_d, (-15.4, 355.5), (-0.164, 1.015), True)
legend_at(ax_d, d_lines, ["B=0", "B=200mT", "B=400mT", "B=600mT"],
          1785, 232, 22, 0.75, 0.46, 0.33, hlw=4.0)
ftext(1650, 230, "T=2.2K", fontsize=24, ha="center", va="center")
ftext(1780, 194, "(d)", fontsize=34, ha="center", va="center")
ftext(1395, 386, "\u0394R/R", fontsize=28, rotation=90, ha="center", va="center")
ftext(1747, 702, "Time delay (ps)", fontsize=28, ha="center", va="center")

# ---------------- panel e ----------------
ax_e = fig.add_axes(rect(2077, 148, 2519, 622))
ax_e.axhline(0, color="k", lw=2.0, zorder=1)
e_lines = []
for ys, col in zip([e_0, e_200, e_400, e_500, e_600],
                   [RED, GREEN, TEAL, YELLOW, MAGENTA]):
    ln, = ax_e.plot(t_decay, ys, color=col, lw=3.0)
    e_lines.append(ln)
style_decay(ax_e, (-15.9, 354.6), (-0.164, 1.015), False)
legend_at(ax_e, e_lines, ["B=0", "B=200mT", "B=400mT", "B=500mT", "B=600mT"],
          2290, 214.4, 23, 0.72, 0.47, 0.255, hlw=4.0)
ftext(2177, 192, "T=10K", fontsize=24, ha="center", va="center")
ftext(2280, 194, "(e)", fontsize=35, ha="center", va="center")
ftext(2208, 528, "Heat diffusion \u0394R/R$_{HD}$", fontsize=17, ha="left", va="center")
ftext(2298, 702, "Time delay (ps)", fontsize=28, ha="center", va="center")

# ---------------- panel f ----------------
ax_fs, ax_fl = broken_axes(1601, 807, 1987, 2006, 2391, 1401, (-11.2, 60.1), (59, 353))
ax_fs.set_ylim(-0.49, 5.0)
f_short = [f_0_s, f_100_s, f_200_s, f_300_s, f_400_s, f_500_s, f_600_s]
f_long = [f_0_l, f_100_l, f_200_l, f_300_l, f_400_l, f_500_l, f_600_l]
f_cols = [RED, BLUE, "#1ec81e", GRAY, TEAL, YELLOW, MAGENTA]
for ys, yl, col in zip(f_short, f_long, f_cols):
    ax_fs.plot(t_short, ys, color=col, lw=3.0)
    ax_fl.plot(t_long, yl, color=col, lw=3.0)
for lab, yv in zip(f_labels, f_label_y):
    ax_fl.text(1.01, yv, lab, transform=ax_fl.get_yaxis_transform(), fontsize=24,
               ha="left", va="center")
ftext(1649, 873, "(f)", fontsize=37, ha="center", va="center")
ftext(1498, 1088, "(\u0394R/R)$_{SC}$", fontsize=28, rotation=90, ha="center", va="center")
ftext(2030, 1493, "Time delay (ps)", fontsize=28, ha="center", va="center")

# ---------------- panel g ----------------
ax_g = fig.add_axes(rect(2750, 176, 3401, 1338))
ax_g.set_yscale("log")
ax_g.plot(fit_hipims_B, fit_hipims_n, color=G_RED, lw=3)
ax_g.plot(fit_dclh_B, fit_dclh_n, color=G_ORANGE, lw=3)
ax_g.plot(fit_dchigh_B, fit_dchigh_n, color=G_BLUE, lw=3)
ax_g.plot(fit_cavity_B, fit_cavity_n, color=G_GREEN, lw=3)
m1, = ax_g.plot(hipims_B, hipims_n, ls="none", marker="o", ms=22, mfc="none",
                mec=G_RED, mew=3, zorder=5)
m2, = ax_g.plot(dchigh_B, dchigh_n, ls="none", marker="s", ms=20, mfc="none",
                mec=G_BLUE, mew=3, zorder=5)
m3, = ax_g.plot(dclh_B, dclh_n, ls="none", marker=(8, 2, 0), ms=24, mfc="none",
                mec=G_ORANGE, mew=3.5, zorder=5)
m4, = ax_g.plot(cavity_B, cavity_n, ls="none", marker="^", ms=24, mfc="none",
                mec=G_GREEN, mew=3, zorder=5)
ax_g.set_xlim(0, 800)
ax_g.set_ylim(0.1, 79.6)
ax_g.set_xticks([0, 200, 400, 600, 800])
ax_g.yaxis.set_major_locator(FixedLocator([0.1, 1, 10]))
ax_g.yaxis.set_major_formatter(FixedFormatter(["0.1", "1", "10"]))
ax_g.yaxis.set_minor_locator(FixedLocator([m * d for d in (0.1, 1, 10) for m in range(2, 10)]))


def minor_fmt(v, pos):
    m = round(v / 10 ** math.floor(math.log10(v) + 1e-9))
    return str(m) if m <= 6 else ""


ax_g.yaxis.set_minor_formatter(FuncFormatter(minor_fmt))
ax_g.spines["top"].set_visible(False)
for s in ax_g.spines.values():
    s.set_linewidth(2.0)
ax_g.tick_params(axis="y", which="major", direction="out", length=14, width=1.8,
                 labelsize=25, pad=6)
ax_g.tick_params(axis="y", which="minor", direction="out", length=9, width=1.6,
                 labelsize=18, pad=6)
ax_g.tick_params(axis="x", direction="out", length=17, width=1.8, labelsize=25, pad=12)
legend_at(ax_g, [m1, m2, m3, m4], ["HiPIMS", "DC high", "DC LH", "Cavity"],
          2811, 399.8, 26, 1.0, 0.3, 0.285)
ftext(2862, 362, "(g)", fontsize=34, fontweight="bold", ha="center", va="center")
ftext(2647, 755, "Quasiparticle density (a.u.)", fontsize=27, rotation=90,
      ha="center", va="center")
ftext(3077, 1473, "Magnetic Field (mT)", fontsize=26, ha="center", va="center")

fig.savefig("out.png", dpi=100)
